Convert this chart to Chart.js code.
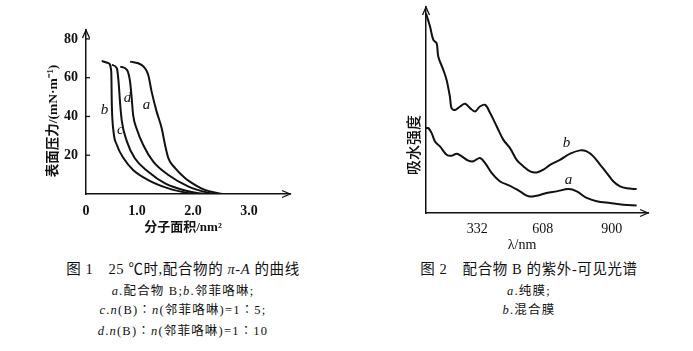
<!DOCTYPE html>
<html><head><meta charset="utf-8">
<script src="https://cdn.jsdelivr.net/npm/chart.js@4"></script>
<style>
html,body{margin:0;padding:0;background:#fff;width:693px;height:351px;overflow:hidden;position:relative}
canvas{position:absolute}
.cap{position:absolute;text-align:center;font-family:"Liberation Serif","Noto Sans CJK SC",serif;color:#111;white-space:nowrap}
.cap div{line-height:1}
i{font-family:"Liberation Serif",serif}
</style></head><body>
<canvas id="c1" width="300" height="250" style="left:0;top:0"></canvas>
<canvas id="c2" width="343" height="260" style="left:350px;top:0"></canvas>
<div class="cap" style="left:0;width:366px;top:262px">
<div style="font-size:14.5px;letter-spacing:0.6px">图 1　25 ℃时,配合物的 <i>π</i>-<i>A</i> 的曲线</div>
<div style="font-size:12.5px;margin-top:8px;letter-spacing:1.2px"><i>a</i>.配合物 B;<i>b</i>.邻菲咯啉;</div>
<div style="font-size:12.5px;margin-top:7px;letter-spacing:1.2px"><i>c</i>.<i>n</i>(B)∶<i>n</i>(邻菲咯啉)=1∶5;</div>
<div style="font-size:12.5px;margin-top:8px;letter-spacing:1.2px"><i>d</i>.<i>n</i>(B)∶<i>n</i>(邻菲咯啉)=1∶10</div>
</div>
<div class="cap" style="left:366px;width:326px;top:262px">
<div style="font-size:14.5px;letter-spacing:0.6px">图 2　配合物 B 的紫外-可见光谱</div>
<div style="font-size:12.5px;margin-top:8px;letter-spacing:1.2px"><i>a</i>.纯膜;</div>
<div style="font-size:12.5px;margin-top:7px;letter-spacing:1.2px"><i>b</i>.混合膜</div>
</div>
<script>
// ---------- Figure 1 data (π-A isotherms) ----------
const areaA = [0.875,1.08,1.20,1.26,1.35,1.44,1.50,1.56,1.68,1.86,2.04,2.21,2.45,2.52];
const presA = [68.3,66.6,61.4,52.8,42.5,33.9,25.3,18.4,13.3,8.1,4.6,2.1,0.4,0];
const areaB = [0.37,0.49,0.54,0.55,0.58,0.64,0.76,0.93,1.20,1.56,1.92,2.02];
const presB = [68.6,67.5,63.1,45.9,32.2,25.3,18.4,12.4,7.2,2.9,0.4,0];
const areaC = [0.55,0.64,0.67,0.70,0.73,0.82,0.96,1.20,1.50,1.86,2.10,2.28];
const presC = [66.6,64.9,58,45.9,37.3,27,18.4,11.5,5.5,1.8,0.4,0];
const areaD = [0.70,0.82,0.875,0.905,0.93,0.99,1.11,1.29,1.56,1.92,2.27,2.42];
const presD = [65.7,64,58,49.4,40.8,33.9,25.3,16.7,9.8,3.8,0.6,0];
const fig1Names = ['a','b','c','d'];
const fig1LabelX = [1.17,0.42,0.70,0.83];
const fig1LabelY = [45.9,43.4,33,49.7];
const fig1XTicks = [0,1,2,3];
const fig1XTickLabels = ['0','1.0','2.0','3.0'];
const fig1YTicks = [20,40,60,80];
const fig1YMinorMarks = [20,40,60,80];

// ---------- Figure 2 data (UV-Vis spectra) ----------
const lamA = [115,125,139,153,174,202,224,245,266,294,315,343,365,393,428,470,512,548,583,625,667,717,752,794,836,893,949,1005];
const absA = [41.2,41.2,38.8,34.7,32.3,28.3,27.8,28.8,27.5,25.4,25.1,26.7,24.2,19.4,15.3,13.2,10.5,8.1,8.4,9.7,10.5,11.6,10.5,7.3,5.7,4.8,4,3.7];
const lamB = [115,132,146,160,167,188,202,216,223,238,259,280,301,322,343,365,386,414,442,470,498,527,555,583,611,639,681,724,766,794,822,851,879,907,935,963,1005];
const absB = [96.9,90.5,84,82.4,75.9,69.5,64.6,56.5,50.9,50,51.7,53,50.9,49.3,51.7,52.5,48.5,42,35.5,31.5,25.8,22.6,20.2,19.7,21,23.4,25.8,28.8,30.4,29.9,27.5,23.4,19.4,15.3,12.9,12,11.6];
const fig2Names = ['a','b'];
const fig2LabelX = [717,709];
const fig2LabelY = [16.2,33.9];
const fig2XTicks = [332,608,900];

const pts = (xs, ys) => xs.map((x, i) => ({x, y: ys[i]}));
const serif = '"Liberation Serif", "DejaVu Serif", serif';
const mixed = '"Liberation Serif", "Noto Sans CJK SC", serif';
const cjk = '"Noto Sans CJK SC", sans-serif';

const decor = {
  id: 'decor',
  afterDraw(chart, args, o) {
    const ctx = chart.ctx, ca = chart.chartArea;
    const xs = chart.scales.x, ys = chart.scales.y;
    ctx.save();
    ctx.strokeStyle = '#111'; ctx.lineWidth = 1.3;
    ctx.beginPath();
    ctx.moveTo(ca.left - 3.5, ca.top + 8); ctx.lineTo(ca.left, ca.top); ctx.lineTo(ca.left + 3.5, ca.top + 8);
    ctx.stroke();
    ctx.beginPath();
    ctx.moveTo(ca.right - 8, ca.bottom - 3.5); ctx.lineTo(ca.right, ca.bottom); ctx.lineTo(ca.right - 8, ca.bottom + 3.5);
    ctx.stroke();
    (o.marks || []).forEach(v => {
      const py = ys.getPixelForValue(v);
      ctx.beginPath(); ctx.moveTo(ca.left, py); ctx.lineTo(ca.left + 4, py); ctx.stroke();
    });
    ctx.fillStyle = '#111';
    ctx.font = 'italic 15px ' + serif;
    ctx.textAlign = 'center'; ctx.textBaseline = 'middle';
    o.names.forEach((n, i) => ctx.fillText(n, xs.getPixelForValue(o.lx[i]), ys.getPixelForValue(o.ly[i])));
    o.titles.forEach(t => {
      ctx.save();
      ctx.translate(t.x, t.y);
      if (t.rot) ctx.rotate(-Math.PI / 2);
      ctx.font = t.font;
      ctx.fillText(t.text, 0, 0);
      ctx.restore();
    });
    ctx.restore();
  }
};

const lineDs = (data, mono) => ({data, borderColor: '#111', borderWidth: 2, pointRadius: 0,
  tension: 0.35, cubicInterpolationMode: mono ? 'monotone' : 'default', fill: false, showLine: true});

new Chart(document.getElementById('c1'), {
  type: 'scatter',
  data: {datasets: [lineDs(pts(areaA, presA), true), lineDs(pts(areaB, presB), true), lineDs(pts(areaC, presC), true), lineDs(pts(areaD, presD), true)]},
  options: {
    responsive: false, animation: false, devicePixelRatio: 1,
    layout: {padding: {left: 0, right: 10, top: 30, bottom: 0}},
    plugins: {legend: {display: false}, tooltip: {enabled: false},
      decor: {names: fig1Names, lx: fig1LabelX, ly: fig1LabelY, marks: fig1YMinorMarks, titles: [
        {text: '表面压力/(mN·m⁻¹)', x: 54, y: 121, rot: true, font: 'bold 13.5px ' + mixed},
        {text: '分子面积/nm²', x: 183, y: 228, rot: false, font: 'bold 13px ' + mixed}
      ]}},
    scales: {
      x: {type: 'linear', min: 0.089, max: 3.73,
        afterFit: s => { s.height = 56; },
        afterBuildTicks: s => { s.ticks = fig1XTicks.map(v => ({value: v === 0 ? 0.089 : v})); },
        grid: {display: false, drawTicks: false},
        border: {display: true, color: '#111', width: 1.5},
        ticks: {padding: 9, color: '#111', font: {family: serif, size: 14, weight: 'bold'},
          callback: (v, i) => fig1XTickLabels[i]}},
      y: {type: 'linear', min: 0, max: 84.6,
        afterFit: s => { s.width = 86; },
        afterBuildTicks: s => { s.ticks = fig1YTicks.map(v => ({value: v})); },
        grid: {display: false, drawTicks: false},
        border: {display: true, color: '#111', width: 1.5},
        ticks: {padding: 8, color: '#111', font: {family: serif, size: 14, weight: 'bold'},
          callback: v => String(v)}}
    }
  },
  plugins: [decor]
});

new Chart(document.getElementById('c2'), {
  type: 'scatter',
  data: {datasets: [lineDs(pts(lamA, absA), false), lineDs(pts(lamB, absB), false)]},
  options: {
    responsive: false, animation: false, devicePixelRatio: 1,
    layout: {padding: {left: 0, right: 45, top: 7, bottom: 0}},
    plugins: {legend: {display: false}, tooltip: {enabled: false},
      decor: {names: fig2Names, lx: fig2LabelX, ly: fig2LabelY, titles: [
        {text: '吸水强度', x: 63, y: 145, rot: true, font: '500 15px ' + cjk},
        {text: 'λ/nm', x: 172, y: 245, rot: false, font: '14px ' + serif}
      ]}},
    scales: {
      x: {type: 'linear', min: 115, max: 1053,
        afterFit: s => { s.height = 47; },
        afterBuildTicks: s => { s.ticks = fig2XTicks.map(v => ({value: v})); },
        grid: {display: false, drawTicks: false},
        border: {display: true, color: '#111', width: 1.5},
        ticks: {padding: 8, color: '#111', font: {family: serif, size: 14}, callback: v => String(v)}},
      y: {type: 'linear', min: 0, max: 100,
        afterFit: s => { s.width = 76; },
        grid: {display: false, drawTicks: false},
        border: {display: true, color: '#111', width: 1.5},
        ticks: {display: false}}
    }
  },
  plugins: [decor]
});
</script>
</body></html>
